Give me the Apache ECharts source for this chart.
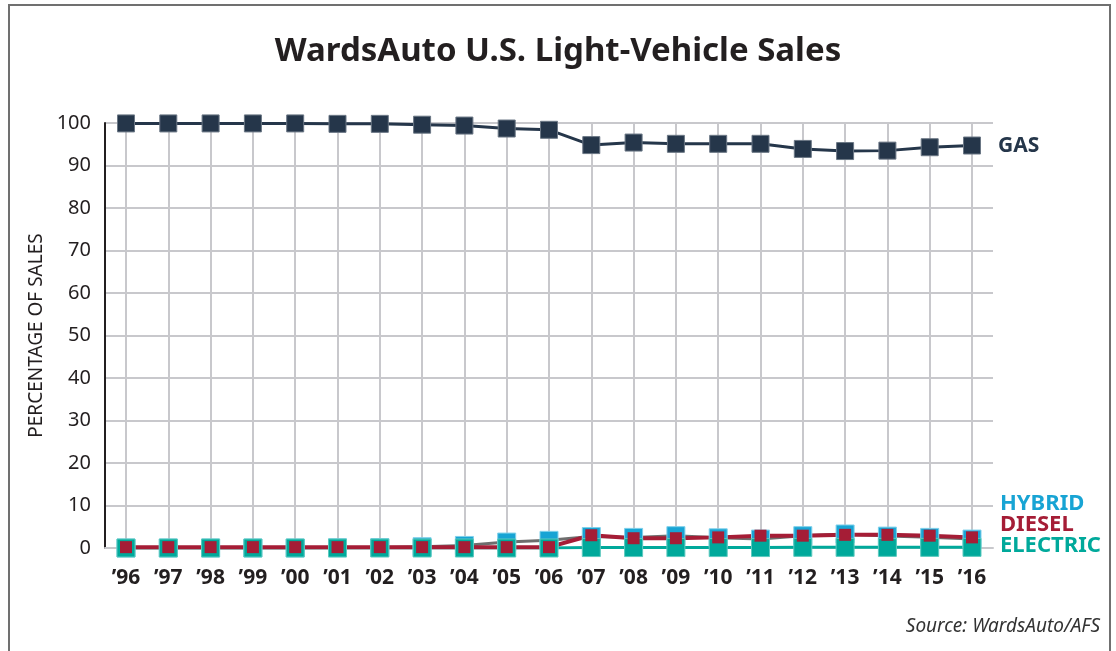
<!DOCTYPE html>
<html>
<head>
<meta charset="utf-8">
<title>WardsAuto U.S. Light-Vehicle Sales</title>
<script src="https://cdn.jsdelivr.net/npm/echarts@6/dist/echarts.min.js"></script>
<style>
  html, body { margin: 0; padding: 0; background: #fff; }
  #chart { width: 1116px; height: 651px; }
</style>
</head>
<body>
<div id="chart"></div>
<script>
const years = ['’96', '’97', '’98', '’99', '’00', '’01', '’02', '’03', '’04', '’05', '’06',
  '’07', '’08', '’09', '’10', '’11', '’12', '’13', '’14', '’15', '’16']
const gas = [99.9, 99.9, 99.9, 99.9, 99.9, 99.8, 99.8, 99.6, 99.4, 98.7, 98.4,
  94.8, 95.4, 95.1, 95.1, 95.1, 93.9, 93.4, 93.5, 94.3, 94.7]
const hybrid = [0, 0, 0, 0, 0, 0.05, 0.1, 0.3, 0.6, 1.4, 1.8,
  2.7, 2.5, 2.9, 2.4, 2.1, 2.9, 3.3, 2.8, 2.5, 2.1]
const diesel = [0.2, 0.2, 0.2, 0.2, 0.2, 0.2, 0.2, 0.2, 0.2, 0.2, 0.2,
  3.0, 2.3, 2.3, 2.5, 2.9, 2.9, 3.1, 3.1, 2.9, 2.5]
const electric = [0, 0, 0, 0, 0, 0, 0, 0, 0, 0, 0,
  0.1, 0.1, 0.1, 0.1, 0.1, 0.15, 0.15, 0.15, 0.15, 0.15]
const yTicks = { min: 0, max: 100, interval: 10 }

const navy = '#25364a'
const cyan = '#18a4d4'
const red = '#a51d36'
const teal = '#00a99b'
const gridGray = '#c8c8cc'
const font = '"Noto Sans", "Open Sans", sans-serif'

const chart = echarts.init(document.getElementById('chart'))

const option = {
  animation: false,
  backgroundColor: '#fff',
  title: {
    text: 'WardsAuto U.S. Light-Vehicle Sales',
    left: 'center',
    top: 30,
    textStyle: { fontFamily: font, fontSize: 33, fontWeight: 'bold', color: '#231f20' }
  },
  graphic: [
    { type: 'rect', shape: { x: 9, y: 5, width: 1101, height: 700 },
      style: { fill: 'none', stroke: '#707070', lineWidth: 2 }, silent: true },
    { type: 'text', left: 1000, top: 493,
      style: { text: 'HYBRID', fill: cyan, font: 'bold 22px ' + font } },
    { type: 'text', left: 1000, top: 514,
      style: { text: 'DIESEL', fill: red, font: 'bold 22px ' + font } },
    { type: 'text', left: 1000, top: 535,
      style: { text: 'ELECTRIC', fill: teal, font: 'bold 22px ' + font } },
    { type: 'text', right: 16, top: 617,
      style: { text: 'Source: WardsAuto/AFS', fill: '#333', font: 'italic 19px ' + font } }
  ],
  grid: [
    { left: 105, right: 123, top: 123, bottom: 103 },
    { left: 126, right: 144, top: 123, bottom: 103 }
  ],
  xAxis: [
    {
      gridIndex: 0, type: 'category', data: years,
      axisLine: { lineStyle: { color: gridGray, width: 2 } },
      axisTick: { show: false }, axisLabel: { show: false }, splitLine: { show: false }
    },
    {
      gridIndex: 1, type: 'category', data: years, boundaryGap: false,
      axisLine: { show: false }, axisTick: { show: false },
      splitLine: { show: true, lineStyle: { color: gridGray, width: 2 } },
      axisLabel: { margin: 20, color: '#231f20', fontFamily: font, fontSize: 21, fontWeight: 'bold' }
    }
  ],
  yAxis: [
    {
      gridIndex: 0, type: 'value', min: yTicks.min, max: yTicks.max, interval: yTicks.interval,
      name: 'PERCENTAGE OF SALES', nameLocation: 'middle', nameGap: 58,
      nameTextStyle: { color: '#231f20', fontFamily: font, fontSize: 19 },
      axisLine: { show: true, lineStyle: { color: '#231f20', width: 2 } },
      axisTick: { show: false },
      axisLabel: { margin: 14, color: '#231f20', fontFamily: font, fontSize: 20 },
      splitLine: { lineStyle: { color: gridGray, width: 2 } }
    },
    {
      gridIndex: 1, type: 'value', min: yTicks.min, max: yTicks.max, show: false,
      splitLine: { show: false }
    }
  ],
  series: [
    {
      name: 'HYBRID', type: 'line', xAxisIndex: 1, yAxisIndex: 1, data: hybrid,
      symbol: 'rect', symbolSize: 18,
      lineStyle: { color: '#6e6e6e', width: 3 },
      itemStyle: { color: cyan, borderColor: '#7fd0ea', borderWidth: 1 }
    },
    {
      name: 'ELECTRIC', type: 'line', xAxisIndex: 1, yAxisIndex: 1, data: electric,
      symbol: 'rect', symbolSize: 18,
      lineStyle: { color: teal, width: 3 },
      itemStyle: { color: teal, borderColor: '#5cc9bf', borderWidth: 1 }
    },
    {
      name: 'DIESEL', type: 'line', xAxisIndex: 1, yAxisIndex: 1, data: diesel,
      symbol: 'rect', symbolSize: 12,
      lineStyle: { color: red, width: 4 },
      itemStyle: { color: red }
    },
    {
      name: 'GAS', type: 'line', xAxisIndex: 1, yAxisIndex: 1, data: gas,
      symbol: 'rect', symbolSize: 17,
      lineStyle: { color: navy, width: 3 },
      itemStyle: { color: navy, borderColor: '#6b7785', borderWidth: 1 },
      endLabel: {
        show: true, formatter: 'GAS', distance: 26,
        color: navy, fontFamily: font, fontSize: 21, fontWeight: 'bold'
      }
    }
  ]
}

chart.setOption(option)
</script>
</body>
</html>
